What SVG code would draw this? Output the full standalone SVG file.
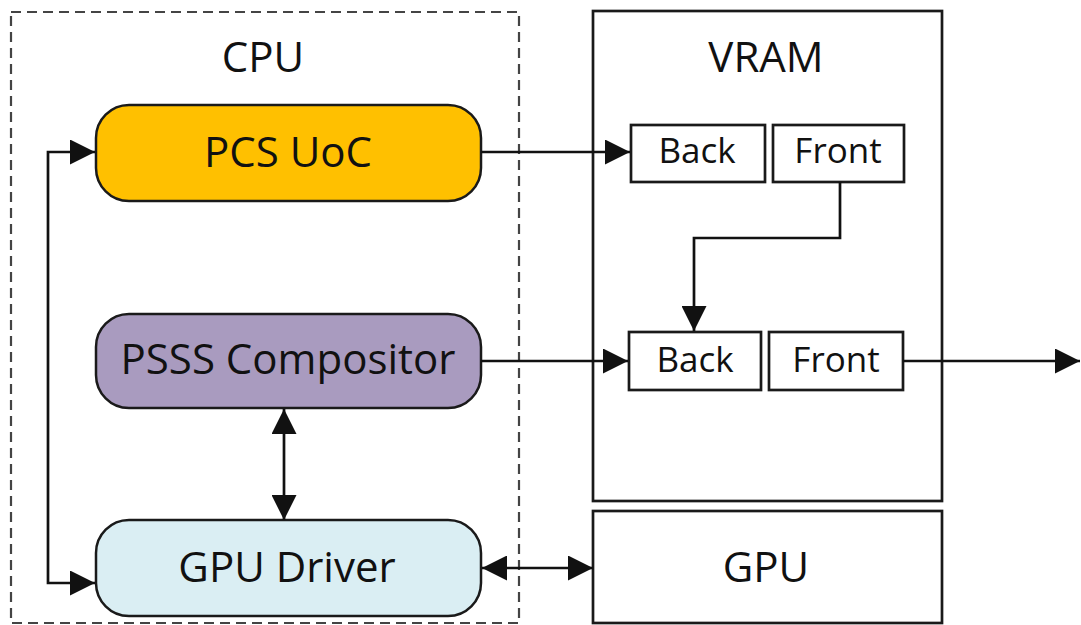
<svg xmlns="http://www.w3.org/2000/svg" width="1081" height="625" viewBox="0 0 1081 625">
  <style>
    text { font-family: "Open Sans", "Liberation Sans", sans-serif; fill: #111; text-anchor: middle; }
    .big { font-size: 42px; }
    .buf { font-size: 35px; }
    .pill { stroke: #1a1a1a; stroke-width: 2.5; }
    .box { fill: #fff; stroke: #1a1a1a; stroke-width: 2.7; }
    .wire { fill: none; stroke: #111; stroke-width: 2.7; }
  </style>
  <defs>
    <marker id="arrow" viewBox="0 0 25 25" refX="25" refY="12.5" markerWidth="25" markerHeight="25" markerUnits="userSpaceOnUse" orient="auto-start-reverse">
      <path d="M0,0 L25,12.5 L0,25 Z" fill="#111"/>
    </marker>
  </defs>

  <rect width="1081" height="625" fill="#fff"/>

  <!-- CPU boundary -->
  <g id="cpu">
    <rect x="11" y="12" width="508" height="611" fill="none" stroke="#444" stroke-width="2.2" stroke-dasharray="10 6"/>
    <text class="big" x="263" y="72">CPU</text>
  </g>

  <!-- VRAM container -->
  <g id="vram">
    <rect class="box" x="593" y="11" width="349" height="490"/>
    <text class="big" x="766" y="72">VRAM</text>
  </g>

  <g id="gpu">
    <rect class="box" x="593" y="511" width="349" height="112"/>
    <text class="big" x="766" y="582">GPU</text>
  </g>

  <g id="pcs-uoc">
    <rect class="pill" x="96" y="105" width="385" height="96" rx="33" fill="#FFC000"/>
    <text class="big" x="288" y="167">PCS UoC</text>
  </g>

  <g id="psss-compositor">
    <rect class="pill" x="96" y="314" width="385" height="94" rx="33" fill="#A99BBF"/>
    <text class="big" x="288" y="374">PSSS Compositor</text>
  </g>

  <g id="gpu-driver">
    <rect class="pill" x="96" y="520" width="385" height="96" rx="33" fill="#DAEEF3"/>
    <text class="big" x="287" y="582">GPU Driver</text>
  </g>

  <!-- first swap chain -->
  <g id="back-1">
    <rect class="box" x="631" y="125" width="134" height="57"/>
    <text class="buf" x="697" y="163">Back</text>
  </g>
  <g id="front-1">
    <rect class="box" x="773" y="125" width="131" height="57"/>
    <text class="buf" x="838" y="163">Front</text>
  </g>

  <!-- second swap chain -->
  <g id="back-2">
    <rect class="box" x="629" y="332" width="132" height="58"/>
    <text class="buf" x="695" y="372">Back</text>
  </g>
  <g id="front-2">
    <rect class="box" x="769" y="332" width="134" height="58"/>
    <text class="buf" x="836" y="372">Front</text>
  </g>

  <!-- connectors -->
  <g id="connectors">
    <path class="wire" d="M95,152 H48 V583 H95" marker-start="url(#arrow)" marker-end="url(#arrow)"/>
    <path class="wire" d="M481,152 H630" marker-end="url(#arrow)"/>
    <path class="wire" d="M840,182 V238 H694 V331" marker-end="url(#arrow)"/>
    <path class="wire" d="M481,361 H628" marker-end="url(#arrow)"/>
    <path class="wire" d="M903,361 H1080" marker-end="url(#arrow)"/>
    <path class="wire" d="M284,409 V520" marker-start="url(#arrow)" marker-end="url(#arrow)"/>
    <path class="wire" d="M482,568 H593" marker-start="url(#arrow)" marker-end="url(#arrow)"/>
  </g>
</svg>
